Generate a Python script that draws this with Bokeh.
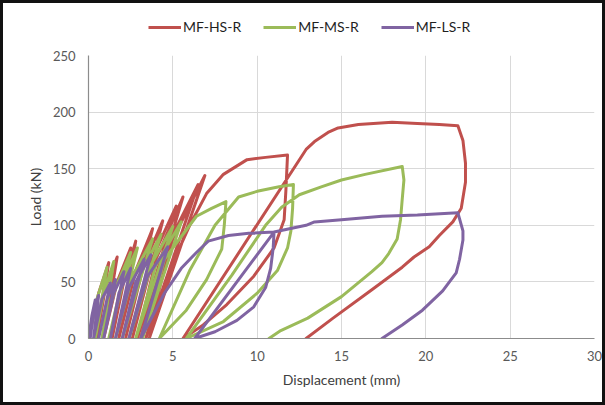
from bokeh.plotting import figure
from bokeh.layouts import column
from bokeh.models import Range1d, Legend, LegendItem, FixedTicker
from bokeh.embed import file_html
from bokeh.resources import INLINE

# ---- data (displacement mm, load kN) ----
hs_x = [0, 0.6, 1.2, 0.5, 1.0, 1.7, 0.9, 1.7, 2.5, 1.4, 2.0, 2.8, 1.8, 2.8, 3.8, 2.2, 3.0, 4.4, 2.6,
        3.6, 5.2, 2.9, 4.0, 5.6, 3.1, 4.6, 6.5, 3.4, 5.0, 6.9, 3.6, 4.8, 6.0, 7.0, 8.0, 9.4, 10.5, 11.8,
        11.7, 11.6, 11.0, 9.8, 8.2, 6.8, 5.6, 12.9, 13.4, 14.2, 14.8, 16.0, 18.0, 19.5, 20.8, 21.9,
        22.2, 22.35, 22.35, 22.1, 21.6, 20.8, 20.2, 19.3, 18.6, 16.8, 14.5, 12.9]
hs_y = [0, 40, 67, 0, 45, 72, 0, 50, 80, 0, 45, 86, 0, 60, 97, 0, 55, 104, 0,
        65, 117, 0, 70, 125, 0, 80, 136, 0, 88, 144, 0, 60, 100, 128, 145, 158, 160, 162,
        130, 105, 80, 55, 30, 12, 0, 167, 174, 182, 186, 189, 191, 190, 189, 188,
        175, 155, 138, 115, 103, 91, 81, 72, 63, 43, 18, 0]

ms_x = [0, 0.5, 1.1, 0.4, 0.9, 1.5, 0.8, 1.6, 2.5, 1.2, 2.0, 2.9, 1.6, 2.6, 3.8, 2.0, 3.0, 4.3, 2.4,
        3.5, 5.0, 2.8, 4.0, 5.5, 3.2, 4.5, 6.4, 7.3, 8.15, 8.05, 7.9, 7.0, 5.8, 4.2, 6.0, 7.5, 8.9,
        10.0, 11.3, 12.15, 12.1, 12.0, 11.8, 11.2, 10.0, 8.0, 5.8, 8.5, 10.5, 11.45, 12.5, 13.8,
        15.0, 16.4, 18.6, 18.7, 18.6, 18.5, 18.3, 17.8, 17.4, 16.8, 15.0, 13.0, 11.4, 10.7]
ms_y = [0, 35, 63, 0, 40, 68, 0, 45, 76, 0, 50, 80, 0, 55, 88, 0, 55, 92, 0,
        60, 99, 0, 65, 103, 0, 70, 108, 115, 121, 100, 79, 52, 25, 0, 60, 100, 125,
        130, 134, 136, 115, 95, 80, 60, 40, 15, 0, 56, 100, 116, 127, 134,
        140, 145, 152, 140, 123, 105, 88, 75, 67, 59, 37, 18, 7, 0]

ls_x = [0, 0.2, 0.4, 0.1, 0.3, 0.6, 0.3, 0.8, 1.3, 0.6, 1.1, 1.6, 0.9, 1.5, 2.1, 1.3, 1.8, 2.5, 1.6,
        2.4, 3.3, 2.0, 2.8, 3.7, 2.4, 3.5, 4.7, 3.1, 4.5, 5.5, 6.4, 7.1, 8.3, 9.5, 11.0, 10.95, 10.8,
        10.5, 9.8, 8.8, 7.5, 6.3, 11.0, 12.9, 13.4, 15.0, 17.4, 19.5, 21.9, 22.2, 22.2, 22.0, 21.8,
        21.0, 19.8, 18.6, 17.4]
ls_y = [0, 20, 34, 0, 25, 38, 0, 35, 49, 0, 35, 52, 0, 40, 59, 0, 40, 62, 0,
        45, 70, 0, 50, 74, 0, 55, 81, 0, 40, 62, 76, 86, 91, 93, 94, 80, 62,
        45, 28, 16, 6, 0, 94, 100, 103, 105, 108, 109, 111, 95, 87, 70, 58,
        42, 25, 12, 0]

series_names = ["MF-HS-R", "MF-MS-R", "MF-LS-R"]
series_colors = ["#C0504D", "#9BBB59", "#8064A2"]
x_ticks = [0, 5, 10, 15, 20, 25, 30]
y_ticks = [0, 50, 100, 150, 200, 250]

FONT = "Lato"
BORDER = "3px solid #111111"
NAN = float("nan")

# ---- legend strip (top of the chart) ----
lf = figure(width=605, height=45, output_backend="svg", toolbar_location=None,
            x_range=Range1d(0, 1), y_range=Range1d(0, 1),
            x_axis_type=None, y_axis_type=None, min_border=0)
lf.grid.visible = False
lf.outline_line_color = None
lf.styles = {"border-top": BORDER, "border-left": BORDER, "border-right": BORDER}
leg_renderers = [lf.line([NAN], [NAN], line_color=c, line_width=3) for c in series_colors]
legend = Legend(items=[LegendItem(label=n, renderers=[r]) for n, r in zip(series_names, leg_renderers)],
                orientation="horizontal", location=(60, 13),
                glyph_width=33, glyph_height=14, label_standoff=2, spacing=22, padding=0, margin=0,
                border_line_color=None, background_fill_alpha=0,
                label_text_font=FONT, label_text_font_size="14px", label_text_color="#1F1F1F")
lf.add_layout(legend, "center")

# ---- main chart ----
p = figure(width=605, height=360, output_backend="svg", toolbar_location=None,
           x_range=Range1d(0, 30), y_range=Range1d(0, 250),
           min_border_left=85, min_border_right=14, min_border_top=10, min_border_bottom=67)
p.styles = {"border-bottom": BORDER, "border-left": BORDER, "border-right": BORDER}
p.outline_line_color = None
p.background_fill_color = "white"
p.border_fill_color = "white"

p.xaxis.ticker = FixedTicker(ticks=x_ticks)
p.yaxis.ticker = FixedTicker(ticks=y_ticks)
p.xgrid.ticker = FixedTicker(ticks=x_ticks)
p.ygrid.ticker = FixedTicker(ticks=y_ticks)
p.grid.grid_line_color = "#D9D9D9"
p.grid.grid_line_width = 1

for ax in (p.xaxis, p.yaxis):
    ax.axis_line_color = "#8C8C8C"
    ax.axis_line_width = 1.2
    ax.major_tick_line_color = None
    ax.minor_tick_line_color = None
    ax.major_tick_out = 0
    ax.major_label_text_font = FONT
    ax.major_label_text_font_size = "13px"
    ax.major_label_text_color = "#595959"
    ax.axis_label_text_font = FONT
    ax.axis_label_text_font_size = "14px"
    ax.axis_label_text_font_style = "normal"
    ax.axis_label_text_color = "#404040"

p.xaxis.axis_label = "Displacement (mm)"
p.yaxis.axis_label = "Load (kN)"
p.xaxis.major_label_standoff = 12
p.xaxis.axis_label_standoff = 7
p.yaxis.major_label_standoff = 13
p.yaxis.axis_label_standoff = 6

for xs, ys, c in [(hs_x, hs_y, series_colors[0]), (ms_x, ms_y, series_colors[1]), (ls_x, ls_y, series_colors[2])]:
    p.line(xs, ys, line_color=c, line_width=3, line_join="round", line_cap="round")

layout = column(lf, p, spacing=0)
open("out.html", "w").write(file_html(layout, INLINE))
